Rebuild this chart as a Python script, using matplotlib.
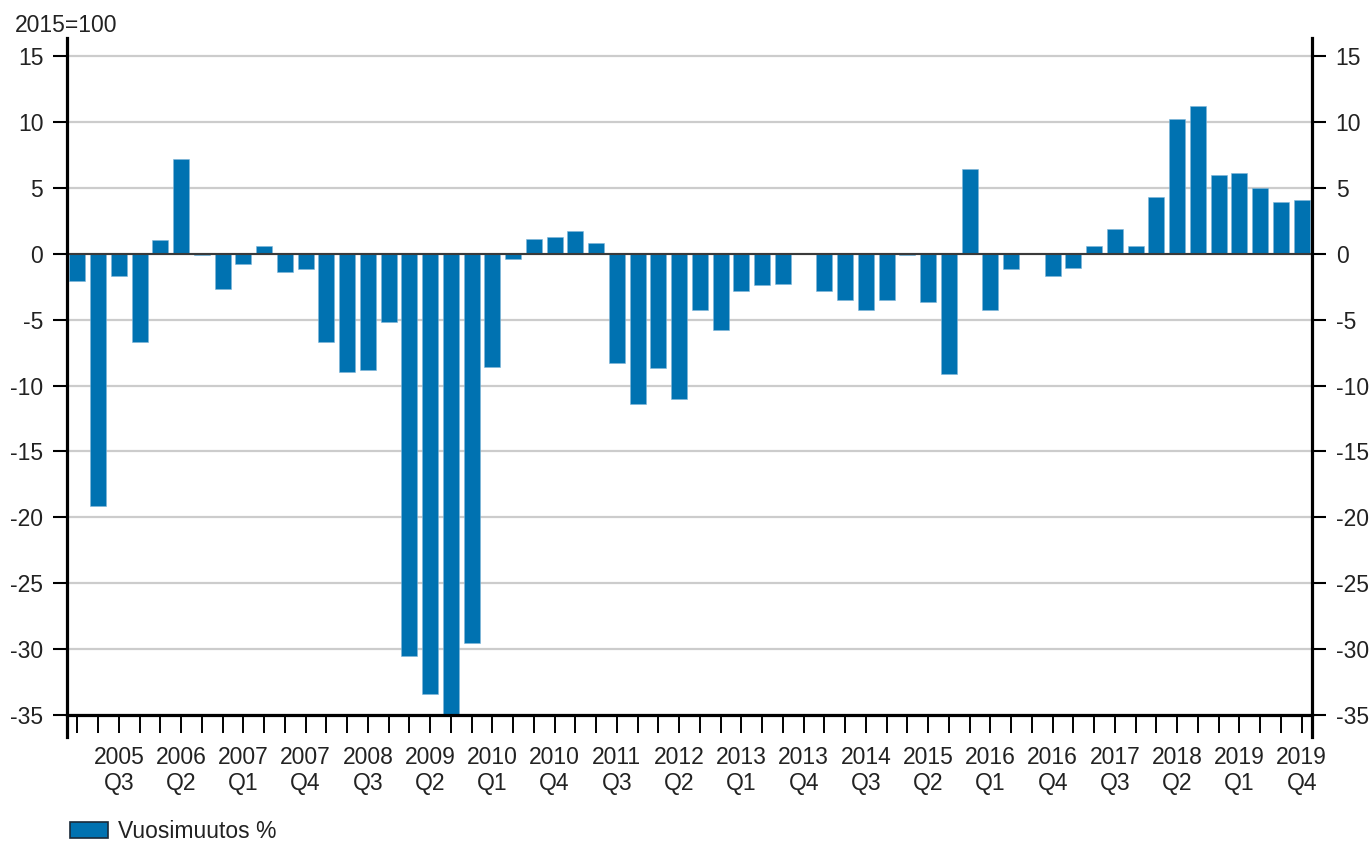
import matplotlib

matplotlib.use("Agg")
import matplotlib.pyplot as plt  # noqa: E402
import numpy as np  # noqa: E402

plt.rcParams["font.family"] = ["Liberation Sans", "DejaVu Sans"]
plt.rcParams["font.size"] = 16.5

# quarterly data 2005Q1 .. 2019Q4
years = list(range(2005, 2020))
quarters = ["Q1", "Q2", "Q3", "Q4"]
periods = [f"{y}\n{q}" for y in years for q in quarters]

change_pct = [
    -2.1, -19.1, -1.7, -6.7,      # 2005
    1.0, 7.2, -0.1, -2.7,         # 2006
    -0.8, 0.6, -1.4, -1.2,        # 2007
    -6.7, -9.0, -8.8, -5.2,       # 2008
    -30.5, -33.4, -35.0, -29.5,   # 2009
    -8.6, -0.4, 1.1, 1.3,         # 2010
    1.7, 0.8, -8.3, -11.4,        # 2011
    -8.7, -11.0, -4.3, -5.8,      # 2012
    -2.8, -2.4, -2.3, 0.0,        # 2013
    -2.8, -3.5, -4.3, -3.5,       # 2014
    -0.1, -3.7, -9.1, 6.4,        # 2015
    -4.3, -1.2, 0.0, -1.7,        # 2016
    -1.1, 0.6, 1.9, 0.6,          # 2017
    4.3, 10.2, 11.2, 6.0,         # 2018
    6.1, 5.0, 3.9, 4.1,           # 2019
]

y_ticks = [15, 10, 5, 0, -5, -10, -15, -20, -25, -30, -35]
bar_colour = "#0072b1"
text_colour = "#222222"

fig = plt.figure(figsize=(13.69, 8.41), dpi=100)
ax = fig.add_axes([0.0489, 0.1237, 0.9095, 0.8312])

x = np.arange(len(change_pct))
ax.bar(x, change_pct, width=0.77, color=bar_colour, edgecolor="#7fb6d8",
       linewidth=0.4, zorder=3, label="Vuosimuutos %")

ax.set_xlim(-0.5, len(change_pct) - 0.5)
ax.set_ylim(-36.65, 16.36)

ax.set_yticks(y_ticks)
ax.set_yticklabels([str(v) for v in y_ticks])
ax.yaxis.grid(True, color="#cccccc", lw=1.6, zorder=0)
ax.axhline(0, color="#3a3a3a", lw=1.5, zorder=4)

ax.set_xticks(x)
ax.set_xticklabels([p if i % 3 == 2 else "" for i, p in enumerate(periods)],
                   linespacing=1.8)

ax.spines["top"].set_visible(False)
ax.spines["bottom"].set_position(("data", -35))
for side in ("left", "right", "bottom"):
    ax.spines[side].set_linewidth(2.3)
    ax.spines[side].set_color("black")
    ax.spines[side].set_zorder(5)

ax.tick_params(axis="y", which="both", left=True, right=True,
               labelleft=True, labelright=True, length=10, width=1.5,
               pad=7, colors="black", labelcolor=text_colour)
ax.tick_params(axis="x", length=13, width=1.4, pad=9, colors="black",
               labelcolor=text_colour)

fig.text(0.011, 0.970, "2015=100", ha="left", va="center", color=text_colour)

handle = plt.Rectangle((0, 0), 1, 1, facecolor=bar_colour, edgecolor="#1a2a3a", lw=1.2)
fig.legend([handle], ["Vuosimuutos %"], loc="lower left",
           bbox_to_anchor=(0.036, -0.027), frameon=False,
           handlelength=1.65, handleheight=0.7, handletextpad=0.45,
           labelcolor=text_colour)

fig.savefig("out.png", dpi=100)
plt.close(fig)
